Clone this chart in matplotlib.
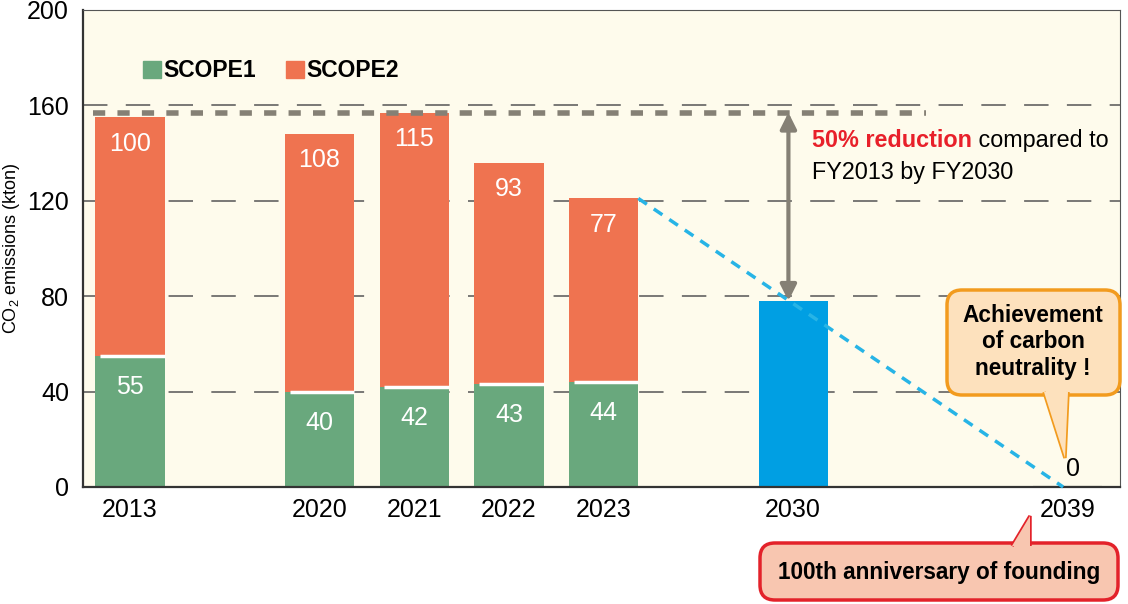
import matplotlib.pyplot as plt
from matplotlib.patches import FancyBboxPatch, Polygon, Patch

plt.rcParams['font.family'] = ['Liberation Sans', 'DejaVu Sans']
plt.rcParams['mathtext.default'] = 'regular'

# data
years = ['2013', '2020', '2021', '2022', '2023', '2030', '2039']
scope1 = [55, 40, 42, 43, 44]
scope2 = [100, 108, 115, 93, 77]
target_2030 = 78
target_2039 = 0
ref_level = 157

slots = [0, 2, 3, 4, 5, 7, 9.9]
w = 0.73

GREEN = '#69a87d'
ORANGE = '#ef7350'
BLUE = '#009fe3'

fig = plt.figure(figsize=(11.28, 6.04), dpi=100)
ax = fig.add_axes([83 / 1128, 1 - 487 / 604, (1120 - 83) / 1128, 477 / 604])
ax.set_facecolor('#fefbec')

# grid
for yv in [40, 80, 120, 160]:
    ax.axhline(yv, color='#555555', lw=1.1, ls=(0, (16, 12)), zorder=1)

hist = slots[:5]
ax.bar(hist, scope1, width=w, color=GREEN, zorder=2)
ax.bar(hist, scope2, width=w, bottom=scope1, color=ORANGE, zorder=2)
ax.hlines(scope1, [x - w / 2 + 0.05 for x in hist], [x + w / 2 for x in hist],
          color='white', lw=2.5, zorder=3)
ax.bar(slots[5], target_2030, width=w, color=BLUE, zorder=2)
ax.bar(slots[6], target_2039, width=w, color='black', edgecolor='black', lw=1.5, zorder=2)

for x, a, b in zip(hist, scope1, scope2):
    ax.text(x, a - 13, str(a), ha='center', va='center', color='white', fontsize=18, zorder=4)
    ax.text(x, a + b - 11, str(b), ha='center', va='center', color='white', fontsize=18, zorder=4)
ax.text(slots[6] + 0.05, 2.5, str(target_2039), ha='center', va='bottom', fontsize=18, zorder=4)

# reference level and arrow
ax.plot([-0.39, 8.4], [ref_level, ref_level], color='#858075', lw=4, ls=(0, (2.2, 2.2)), zorder=3)
ax.annotate('', xy=(6.95, target_2030), xytext=(6.95, ref_level),
            arrowprops=dict(arrowstyle='<|-|>', color='#858075', lw=3,
                            mutation_scale=24, shrinkA=0, shrinkB=0), zorder=3)

# trend line
total_2023 = scope1[-1] + scope2[-1]
ax.plot([slots[4] + w / 2, slots[6] - 0.05], [total_2023, target_2039], color='#27b4e6',
        lw=2.5, ls=(0, (3, 2.4)), zorder=3, clip_on=False)

t1 = ax.text(7.2, 140.3, '50% reduction', color='#e8202a', fontsize=16.8, fontweight='bold',
             va='bottom', ha='left')
ax.annotate(' compared to', xy=(1, 0), xycoords=t1, va='bottom', ha='left', fontsize=16.8)
ax.text(7.2, 132, 'FY2013 by FY2030', fontsize=16.8, va='center', ha='left')

ax.set_xlim(-0.496, 10.45)
ax.set_ylim(0, 200)
ax.set_yticks([0, 40, 80, 120, 160, 200])
ax.set_xticks(slots, years)
ax.tick_params(length=0, labelsize=18)
ax.tick_params(axis='y', pad=10)
ax.tick_params(axis='x', pad=8)
ax.set_ylabel('CO$_2$ emissions (kton)', fontsize=13)
ax.yaxis.set_label_coords(-0.059, 0.5)
for s in ['left', 'bottom']:
    ax.spines[s].set_color('#333333')
    ax.spines[s].set_linewidth(1.6)
for s in ['top', 'right']:
    ax.spines[s].set_color('#555555')
    ax.spines[s].set_linewidth(0.8)

handles = [Patch(color=GREEN, label='SCOPE1'), Patch(color=ORANGE, label='SCOPE2')]
leg = ax.legend(handles=handles, loc='upper left', bbox_to_anchor=(0.038, 0.94), ncol=2,
                frameon=False, handlelength=0.8, handleheight=0.8, handletextpad=0.1,
                columnspacing=1.3, prop={'weight': 'bold', 'size': 16.5})


def px(x, y):
    return (x / 1128, 1 - y / 604)


def callout(box, tip, base, fc, ec):
    x0, y0, x1, y1 = box
    (fx0, fy0), (fx1, fy1) = px(x0, y0), px(x1, y1)
    r = 15 / 1128
    patch = FancyBboxPatch((fx0 + r, fy1 + r * 1128 / 604), fx1 - fx0 - 2 * r,
                           fy0 - fy1 - 2 * r * 1128 / 604,
                           boxstyle=f'round,pad={r}', transform=fig.transFigure,
                           fc=fc, ec=ec, lw=2.5, zorder=5, mutation_aspect=1128 / 604)
    fig.patches.append(patch)
    pts = [px(*base[0]), px(*tip), px(*base[1])]
    fig.patches.append(Polygon(pts, closed=False, transform=fig.transFigure,
                               fc=fc, ec=ec, lw=2.5, zorder=6))
    fig.patches.append(Polygon(pts, closed=True, transform=fig.transFigure,
                               fc=fc, ec='none', zorder=7))


callout((947, 290, 1120, 395), (1065, 458), ((1044, 392), (1068, 392)), '#fde1bd', '#f29b1e')
fig.text(*px(1033, 342), 'Achievement\nof carbon\nneutrality !', ha='center', va='center',
         fontsize=16.3, fontweight='bold', linespacing=1.2, zorder=8)

callout((760, 543, 1118, 600), (1030, 516), ((1012, 546), (1030, 546)), '#f8c6b0', '#e3222a')
fig.text(*px(939, 572), '100th anniversary of founding', ha='center', va='center',
         fontsize=16.3, fontweight='bold', zorder=8)

fig.savefig('out.png', dpi=100)
